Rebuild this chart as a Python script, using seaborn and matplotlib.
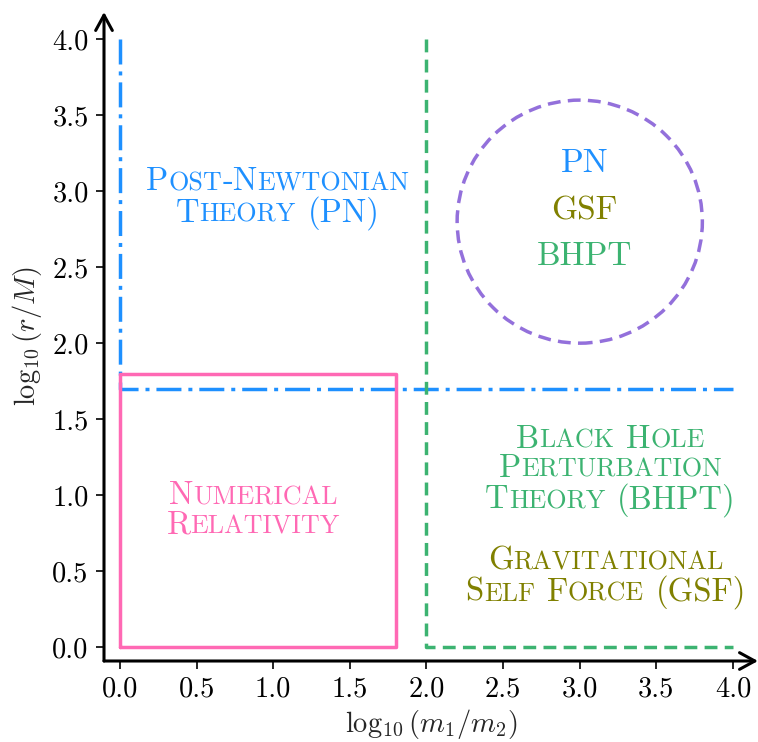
import matplotlib
matplotlib.use("Agg")
import matplotlib.pyplot as plt
import pandas as pd
import seaborn as sns
from matplotlib.patches import Circle
from matplotlib.offsetbox import TextArea, HPacker, VPacker, AnnotationBbox

# Region boundaries in the (log10 q, log10 r/M) plane
pn_x = [0.0, 0.0, 4.0]
pn_y = [4.0, 1.7, 1.7]
nr_x = [0.0, 1.8, 1.8, 0.0, 0.0]
nr_y = [0.0, 0.0, 1.8, 1.8, 0.0]
bhpt_x = [2.0, 2.0, 4.0]
bhpt_y = [4.0, 0.0, 0.0]
overlap_center = (3.0, 2.8)
overlap_radius = 0.8

ticks = [0.0, 0.5, 1.0, 1.5, 2.0, 2.5, 3.0, 3.5, 4.0]
tick_labels = ["0.0", "0.5", "1.0", "1.5", "2.0", "2.5", "3.0", "3.5", "4.0"]

# Region names and where they sit
region_names = [
    ["Post-Newtonian", "Theory (PN)"],
    ["Numerical", "Relativity"],
    ["Black Hole", "Perturbation", "Theory (BHPT)"],
    ["Gravitational", "Self Force (GSF)"],
]
region_xy = [(1.03, 2.95), (0.87, 0.90), (3.20, 1.16), (3.17, 0.455)]

overlap_names = ["PN", "GSF", "BHPT"]
overlap_x = 3.03
overlap_y = [3.18, 2.87, 2.57]

BLUE = "#1e90ff"
PINK = "#ff69b4"
GREEN = "#3cb371"
OLIVE = "#808000"
PURPLE = "#9370db"
region_colors = [BLUE, PINK, GREEN, OLIVE]
overlap_colors = [BLUE, OLIVE, GREEN]

TEXT_SIZE = 23.5
SMALL_CAPS = 0.8
LW = 2.5
DASH = (0, (3.7, 2.1))
DASH_DOT = (0, (7.2, 2.0, 1.15, 2.0))

sns.set_style("ticks")
plt.rcParams["font.family"] = "serif"
plt.rcParams["font.serif"] = ["cmr10"]
plt.rcParams["mathtext.fontset"] = "cm"
plt.rcParams["axes.formatter.use_mathtext"] = True
plt.rcParams["axes.unicode_minus"] = False

fig = plt.figure(figsize=(7.58, 7.42), dpi=100)
ax = fig.add_axes([104 / 758, 81 / 742, 654 / 758, 649 / 742])

frames = {
    "pn": pd.DataFrame({"x": pn_x, "y": pn_y}),
    "nr": pd.DataFrame({"x": nr_x, "y": nr_y}),
    "bhpt": pd.DataFrame({"x": bhpt_x, "y": bhpt_y}),
}
sns.lineplot(data=frames["pn"], x="x", y="y", sort=False, estimator=None,
             color=BLUE, linestyle=DASH_DOT, linewidth=LW, ax=ax)
sns.lineplot(data=frames["nr"], x="x", y="y", sort=False, estimator=None,
             color=PINK, linestyle="-", linewidth=LW, ax=ax)
sns.lineplot(data=frames["bhpt"], x="x", y="y", sort=False, estimator=None,
             color=GREEN, linestyle=DASH, linewidth=LW, ax=ax)
ax.add_patch(Circle(overlap_center, overlap_radius, fill=False,
                    edgecolor=PURPLE, linestyle=DASH, linewidth=LW))


def small_caps_line(text, size, color):
    """Lay out one line in small capitals: lowercase letters become reduced capitals."""
    words = []
    for word in text.split(" "):
        runs = []
        cur, cur_small = "", None
        for ch in word:
            small = ch.islower()
            if cur and small != cur_small:
                runs.append((cur, cur_small))
                cur = ""
            cur += ch.upper()
            cur_small = small
        runs.append((cur, cur_small))
        boxes = [TextArea(s, textprops=dict(fontsize=size * (SMALL_CAPS if sm else 1.0),
                                            color=color, family="cmr10"))
                 for s, sm in runs]
        words.append(HPacker(children=boxes, align="baseline", pad=0, sep=0))
    return HPacker(children=words, align="baseline", pad=0, sep=size * 0.36)


for lines, xy, col in zip(region_names, region_xy, region_colors):
    block = VPacker(children=[small_caps_line(t, TEXT_SIZE, col) for t in lines],
                    align="center", pad=0, sep=0)
    ax.add_artist(AnnotationBbox(block, xy, xycoords="data", frameon=False,
                                 box_alignment=(0.5, 0.5), pad=0))

for name, y, col in zip(overlap_names, overlap_y, overlap_colors):
    ax.text(overlap_x, y, name, color=col, fontsize=24,
            ha="center", va="center", family="cmr10")

ax.set_xlim(-0.104, 4.163)
ax.set_ylim(-0.092, 4.18)
ax.set_xticks(ticks)
ax.set_xticklabels(tick_labels)
ax.set_yticks(ticks)
ax.set_yticklabels(tick_labels)
ax.tick_params(labelsize=20.5, length=6, width=1.2, pad=5, colors="black")
ax.set_xlabel(r"$\log_{10}(m_1/m_2)$", fontsize=20.5, labelpad=3)
ax.set_ylabel(r"$\log_{10}(r/M)$", fontsize=20.5, labelpad=6)

for side in ["top", "right", "left", "bottom"]:
    ax.spines[side].set_visible(False)

arrow = dict(arrowstyle="->,head_length=0.55,head_width=0.3", lw=2.2,
             color="black", mutation_scale=20, shrinkA=0, shrinkB=0)
ax.annotate("", xy=(1.0, 0.0), xytext=(0.0, 0.0), xycoords="axes fraction",
            arrowprops=arrow, annotation_clip=False)
ax.annotate("", xy=(0.0, 1.0), xytext=(0.0, 0.0), xycoords="axes fraction",
            arrowprops=arrow, annotation_clip=False)

fig.savefig("out.png", dpi=100)
